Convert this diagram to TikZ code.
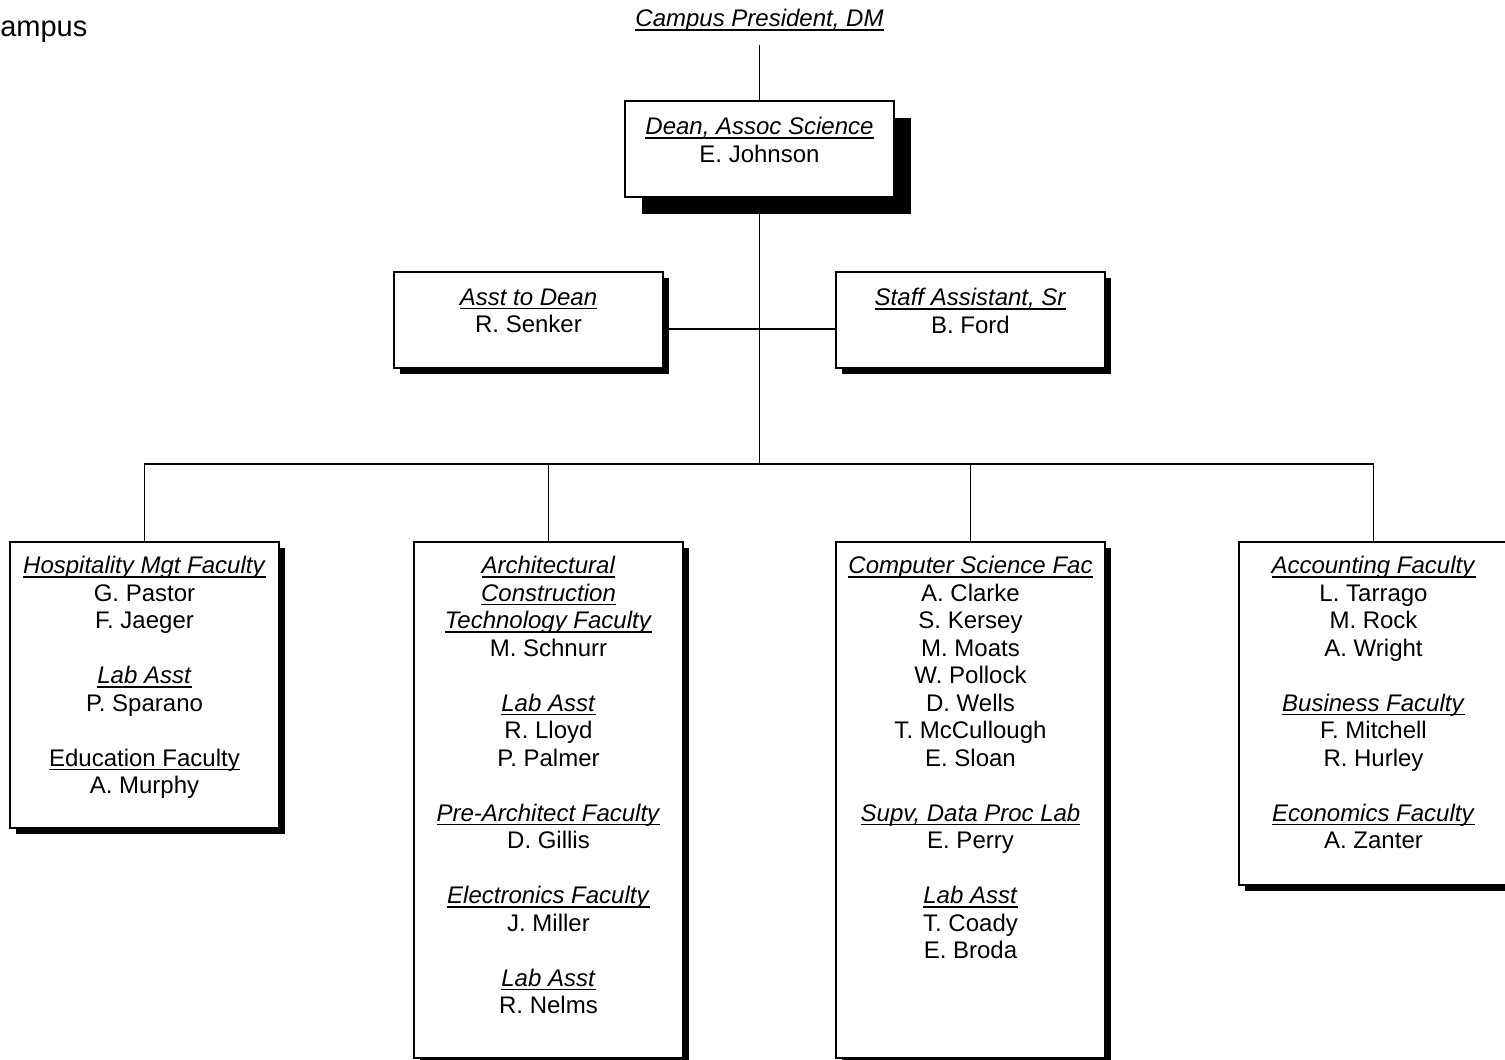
\documentclass[tikz,border=0pt]{standalone}
\usepackage{fontspec}
\setmainfont{Liberation Sans}
\usetikzlibrary{shadows}
\newsavebox{\myulbox}
\newcommand{\myul}[1]{\sbox{\myulbox}{#1}\rlap{\usebox{\myulbox}}\rule[-4pt]{\wd\myulbox}{1.5pt}}
\newcommand{\ttl}[1]{\myul{\textit{#1}}}
\tikzset{
  boxbase/.style={draw=black, line width=1.4pt, fill=white, minimum width=269pt, inner sep=0pt},
  smallshadow/.style={drop shadow={shadow xshift=6pt, shadow yshift=-6pt, fill=black, opacity=1}},
  bigshadow/.style={drop shadow={shadow xshift=17pt, shadow yshift=-17pt, fill=black, opacity=1}},
  txt/.style={align=center, inner sep=0pt, anchor=north, font=\fontsize{24}{27.5}\selectfont},
  conn/.style={line width=1.4pt},
}
\begin{document}
\begin{tikzpicture}[x=1pt,y=-1pt]
\useasboundingbox (0,0) rectangle (1505,1060);
% titles
\node[inner sep=0pt, anchor=base east, font=\fontsize{29}{34}\selectfont] (campus) at (87.5,36) {Campus};
\node[inner sep=0pt, anchor=base, font=\fontsize{24}{27.5}\selectfont] (pres) at (759.5,26.5) {\ttl{Campus President, DM}};
% boxes
\node[boxbase, bigshadow, minimum height=96pt] (dean) at (759.5,149) {};
\node[boxbase, smallshadow, minimum height=96pt] (asst) at (528.5,320) {};
\node[boxbase, smallshadow, minimum height=96pt] (staff) at (970.5,320) {};
\node[boxbase, smallshadow, minimum height=286pt] (hosp) at (144.5,685) {};
\node[boxbase, smallshadow, minimum height=516pt] (arch) at (548.5,800) {};
\node[boxbase, smallshadow, minimum height=516pt] (cs) at (970.5,800) {};
\node[boxbase, smallshadow, minimum height=343pt] (acct) at (1373.5,713.5) {};
% texts
\node[txt] (deant) at ([yshift=-17pt]dean.north) {\ttl{Dean, Assoc Science}\\E. Johnson};
\node[txt] (asstt) at ([yshift=-17pt]asst.north) {\ttl{Asst to Dean}\\R. Senker};
\node[txt] (stafft) at ([yshift=-17pt]staff.north) {\ttl{Staff Assistant, Sr}\\B. Ford};
\node[txt] (hospt) at ([yshift=-15pt]hosp.north) {\ttl{Hospitality Mgt Faculty}\\G. Pastor\\F. Jaeger\\~\\\ttl{Lab Asst}\\P. Sparano\\~\\\myul{Education Faculty}\\A. Murphy};
\node[txt] (archt) at ([yshift=-15pt]arch.north) {\ttl{Architectural}\\\ttl{Construction}\\\ttl{Technology Faculty}\\M. Schnurr\\~\\\ttl{Lab Asst}\\R. Lloyd\\P. Palmer\\~\\\ttl{Pre-Architect Faculty}\\D. Gillis\\~\\\ttl{Electronics Faculty}\\J. Miller\\~\\\ttl{Lab Asst}\\R. Nelms};
\node[txt] (cst) at ([yshift=-15pt]cs.north) {\ttl{Computer Science Fac}\\A. Clarke\\S. Kersey\\M. Moats\\W. Pollock\\D. Wells\\T. McCullough\\E. Sloan\\~\\\ttl{Supv, Data Proc Lab}\\E. Perry\\~\\\ttl{Lab Asst}\\T. Coady\\E. Broda};
\node[txt] (acctt) at ([yshift=-15pt]acct.north) {\ttl{Accounting Faculty}\\L. Tarrago\\M. Rock\\A. Wright\\~\\\ttl{Business Faculty}\\F. Mitchell\\R. Hurley\\~\\\ttl{Economics Faculty}\\A. Zanter};
% connectors
\coordinate (bus) at (759.5,464);
\draw[conn] ([yshift=-13pt]pres.south) -- (dean.north);
\draw[conn] (dean.south) -- (bus);
\draw[conn] ([yshift=-9pt]asst.east) -- ([yshift=-9pt]staff.west);
\draw[conn] (hosp.north) |- (bus) -| (acct.north);
\draw[conn] (arch.north) |- (bus);
\draw[conn] (cs.north) |- (bus);
\end{tikzpicture}
\end{document}
